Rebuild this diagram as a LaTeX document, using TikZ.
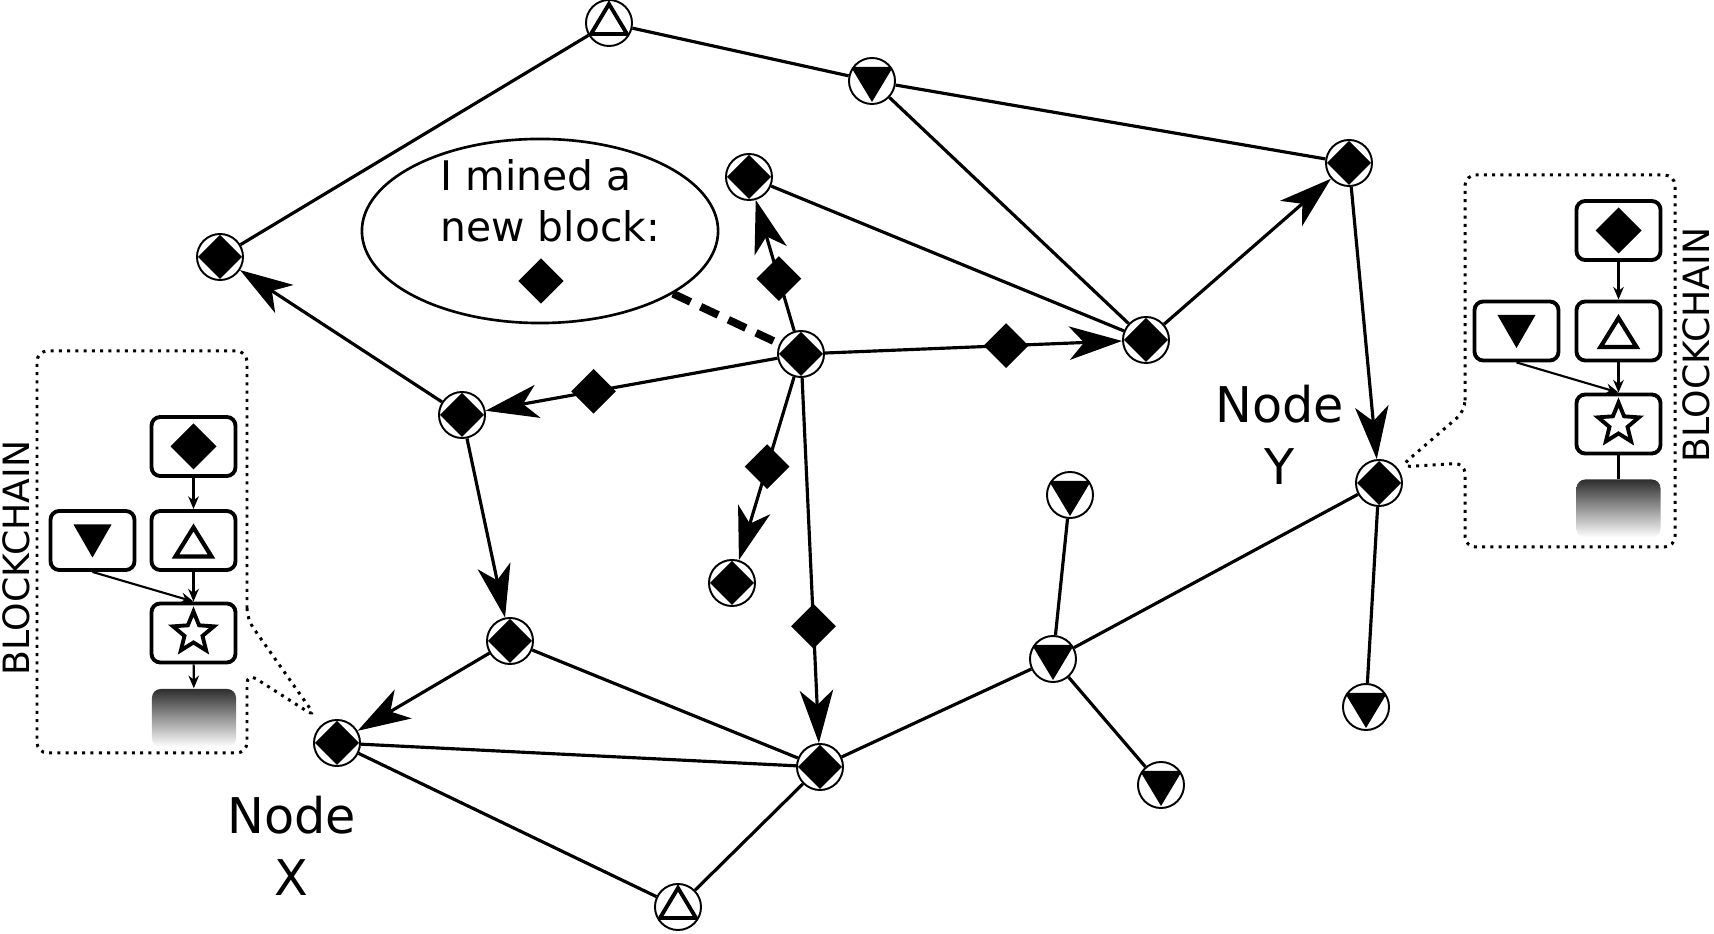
\documentclass[tikz,border=0pt]{standalone}
\usepackage{fontspec}
\setmainfont{DejaVu Sans}
\usetikzlibrary{arrows.meta,shapes.geometric}
\begin{document}
\begin{tikzpicture}[x=0.01cm,y=-0.01cm,
  edge/.style={line width=0.9pt},
  arr/.style={edge,-{Stealth[length=15pt,width=9.5pt,inset=4.2pt]}},
  sym/.style={black,sharp corners,shift={(path picture bounding box.center)}},
  peer/.style={circle,draw,fill=white,line width=0.55pt,minimum size=0.46cm,inner sep=0pt},
  dpeer/.style={peer,path picture={\fill[sym] (0,-22)--(22,0)--(0,22)--(-22,0)--cycle;}},
  upeer/.style={peer,path picture={\draw[sym,fill=none,line width=1.1pt] (0,-19)--(18,11)--(-18,11)--cycle;}},
  npeer/.style={peer,path picture={\fill[sym] (-21,-14)--(21,-14)--(0,21)--cycle;}},
  msg/.style={diamond,fill=black,minimum width=0.46cm,minimum height=0.46cm,inner sep=0pt},
  blk/.style={draw,fill=white,line width=1.1pt,rounded corners=2.5pt,minimum width=0.84cm,minimum height=0.59cm,inner sep=0pt},
  bdia/.style={blk,path picture={\fill[sym] (0,-23)--(23,0)--(0,23)--(-23,0)--cycle;}},
  bdn/.style={blk,path picture={\fill[sym] (-19,-16)--(19,-16)--(0,17)--cycle;}},
  bup/.style={blk,path picture={\draw[sym,fill=none,line width=1.2pt] (0,-13)--(18,16)--(-18,16)--cycle;}},
  bstar/.style={blk,path picture={\draw[sym,fill=none,line width=1.1pt,yshift=-0.015cm] (-90:21.5)--(-54:9.5)--(-18:21.5)--(18:9.5)--(54:21.5)--(90:9.5)--(126:21.5)--(162:9.5)--(198:21.5)--(234:9.5)--cycle;}},
  grad/.style={rounded corners=2.5pt,minimum width=0.84cm,minimum height=0.58cm,inner sep=0pt,top color=black!82,bottom color=white},
  barrow/.style={line width=0.6pt,-{Stealth[length=3.6pt,width=3pt]}},
  bline/.style={line width=0.6pt},
  dotline/.style={line width=0.85pt,dash pattern=on 0.85pt off 1.5pt,rounded corners=3pt},
  lbl/.style={inner sep=0pt,anchor=base,font=\fontsize{14}{17}\selectfont},
  bclbl/.style={inner sep=0pt,anchor=base,rotate=90,font=\fontsize{10.3}{12}\selectfont},
  bub/.style={inner sep=0pt,anchor=base west,font=\fontsize{11.6}{14}\selectfont}
]
\useasboundingbox (0,0) rectangle (1714,934);

% network nodes
\node[upeer] (A) at (609,23) {};
\node[npeer] (B) at (872,81) {};
\node[dpeer] (C) at (1349,163) {};
\node[dpeer] (D) at (220,257) {};
\node[dpeer] (E) at (749,177) {};
\node[dpeer] (F) at (801,354) {};
\node[dpeer] (G) at (1146,340) {};
\node[dpeer] (H) at (462,415) {};
\node[dpeer] (I) at (732,583) {};
\node[dpeer] (J) at (1379,483) {};
\node[npeer] (K) at (1070,495) {};
\node[dpeer] (L) at (510,641) {};
\node[dpeer] (M) at (337,743) {};
\node[dpeer] (N) at (820,767) {};
\node[npeer] (O) at (1053,659) {};
\node[npeer] (P) at (1366,707) {};
\node[npeer] (Q) at (1161,785) {};
\node[upeer] (R) at (678,907) {};

% plain links
\draw[edge] (A) -- (D);
\draw[edge] (A) -- (B);
\draw[edge] (B) -- (C);
\draw[edge] (B) -- (G);
\draw[edge] (E) -- (G);
\draw[edge] (L) -- (N);
\draw[edge] (M) -- (N);
\draw[edge] (M) -- (R);
\draw[edge] (R) -- (N);
\draw[edge] (N) -- (O);
\draw[edge] (O) -- (K);
\draw[edge] (O) -- (Q);
\draw[edge] (O) -- (J);
\draw[edge] (J) -- (P);

% propagation arrows
\draw[arr] (G) -- (C);
\draw[arr] (C) -- (J);
\draw[arr] (H) -- (D);
\draw[arr] (H) -- (L);
\draw[arr] (L) -- (M);
\draw[arr] (F) -- node[msg,pos=0.61] (m1) {} (G);
\draw[arr] (F) -- node[msg,pos=0.40] (m2) {} (E);
\draw[arr] (F) -- node[msg,pos=0.63] (m3) {} (H);
\draw[arr] (F) -- node[msg,pos=0.49] (m4) {} (I);
\draw[arr] (F) -- node[msg,pos=0.68] (m5) {} (N);

% speech bubble
\node[ellipse,draw,line width=0.75pt,minimum width=3.56cm,minimum height=1.84cm,inner sep=0pt] (bubble) at (540,231) {};
\node[bub] (t1) at (440,191) {I mined a};
\node[bub] (t2) at (440,242) {new block:};
\node[msg] (bd) at (541,281) {};
\draw[line width=2.2pt,dash pattern=on 5.5pt off 3.2pt] (bubble) -- (F);

% labels
\node[lbl] (nx1) at (292,834) {Node};
\node[lbl] (nx2) at (291,896) {X};
\node[lbl] (ny1) at (1280,423) {Node};
\node[lbl] (ny2) at (1280,485) {Y};

% left blockchain
\coordinate (mxp) at (316,717);
\draw[dotline] (247,619) -- (247,351) -- (37,351) -- (37,753) -- (247,753) -- (247,673) -- (mxp) -- cycle;
\node[bdia] (lb1) at (193.5,446.5) {};
\node[bdn] (lb2) at (92.5,540.5) {};
\node[bup] (lb3) at (193.5,540.5) {};
\node[bstar] (lb4) at (193.5,633) {};
\node[grad] (lb5) at (194,718) {};
\draw[barrow] (lb1) -- (lb3);
\draw[barrow] (lb3) -- (lb4);
\draw[barrow] (lb2.south) -- (lb4.north);
\draw[barrow] (lb4) -- (lb5);
\node[bclbl] (bcl) at (29,558) {BLOCKCHAIN};

% right blockchain
\coordinate (myp) at (1400,467);
\draw[dotline] (1465,411) -- (1465,175) -- (1675,175) -- (1675,547) -- (1465,547) -- (1465,463) -- (myp) -- cycle;
\node[bdia] (rb1) at (1618.5,230.5) {};
\node[bdn] (rb2) at (1516.5,331) {};
\node[bup] (rb3) at (1618.5,331) {};
\node[bstar] (rb4) at (1618.5,424) {};
\node[grad] (rb5) at (1618.5,508.5) {};
\draw[barrow] (rb1) -- (rb3);
\draw[barrow] (rb3) -- (rb4);
\draw[barrow] (rb2.south) -- (rb4.north);
\draw[bline] (rb4) -- (rb5);
\node[bclbl] (bcr) at (1709,345) {BLOCKCHAIN};
\end{tikzpicture}
\end{document}
